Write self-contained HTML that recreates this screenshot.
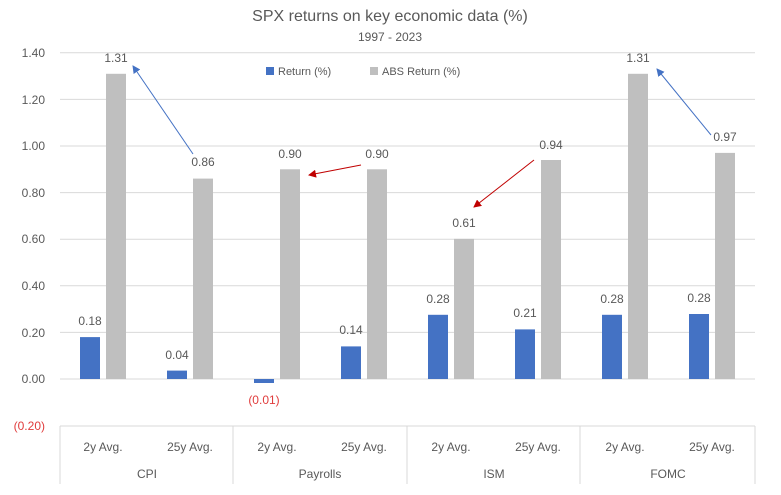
<!DOCTYPE html>
<html><head><meta charset="utf-8"><style>
html,body{margin:0;padding:0;background:#fff;}
svg{display:block;font-family:"Liberation Sans",sans-serif;}
</style></head><body>
<svg width="781" height="495" viewBox="0 0 781 495" xmlns="http://www.w3.org/2000/svg">
<defs>
<marker id="ab" markerWidth="8" markerHeight="8" refX="7" refY="4" orient="auto" markerUnits="userSpaceOnUse"><path d="M0,0 L8,4 L0,8 z" fill="#4472c4"/></marker>
<marker id="ar" markerWidth="8" markerHeight="8" refX="7" refY="4" orient="auto" markerUnits="userSpaceOnUse"><path d="M0,0 L8,4 L0,8 z" fill="#c00000"/></marker>
</defs>
<text x="390" y="21" font-size="16" fill="#595959" text-anchor="middle">SPX returns on key economic data (%)</text>
<text x="390" y="41" font-size="12" fill="#595959" text-anchor="middle">1997 - 2023</text>
<g stroke="#d9d9d9" stroke-width="1">
<line x1="60" x2="755" y1="52.8" y2="52.8"/>
<line x1="60" x2="755" y1="99.4" y2="99.4"/>
<line x1="60" x2="755" y1="146" y2="146"/>
<line x1="60" x2="755" y1="192.6" y2="192.6"/>
<line x1="60" x2="755" y1="239.2" y2="239.2"/>
<line x1="60" x2="755" y1="285.8" y2="285.8"/>
<line x1="60" x2="755" y1="332.4" y2="332.4"/>
<line x1="60" x2="755" y1="379" y2="379"/>
<line x1="60" x2="755" y1="426" y2="426"/>
<line x1="60" x2="60" y1="426" y2="484"/>
<line x1="233" x2="233" y1="426" y2="484"/>
<line x1="407" x2="407" y1="426" y2="484"/>
<line x1="580" x2="580" y1="426" y2="484"/>
<line x1="755" x2="755" y1="426" y2="484"/>
</g>
<g font-size="12" fill="#595959" text-anchor="end">
<text x="45" y="57">1.40</text><text x="45" y="104">1.20</text><text x="45" y="150">1.00</text>
<text x="45" y="197">0.80</text><text x="45" y="243">0.60</text><text x="45" y="290">0.40</text>
<text x="45" y="337">0.20</text><text x="45" y="383">0.00</text>
<text x="45" y="430" fill="#e03c3c">(0.20)</text>
</g>
<rect x="266" y="67" width="8" height="8" fill="#4472c4"/>
<text x="278" y="75" font-size="11" fill="#595959">Return (%)</text>
<rect x="370" y="67" width="8" height="8" fill="#bfbfbf"/>
<text x="382" y="75" font-size="11" fill="#595959">ABS Return (%)</text>
<g fill="#4472c4">
<rect x="80" y="337.1" width="20" height="41.9"/>
<rect x="167" y="370.6" width="20" height="8.4"/>
<rect x="254" y="379" width="20" height="4"/>
<rect x="341" y="346.4" width="20" height="32.6"/>
<rect x="428" y="314.8" width="20" height="64.2"/>
<rect x="515" y="329.4" width="20" height="49.6"/>
<rect x="602" y="314.8" width="20" height="64.2"/>
<rect x="689" y="314" width="20" height="65"/>
</g>
<g fill="#bfbfbf">
<rect x="106" y="73.8" width="20" height="305.2"/>
<rect x="193" y="178.6" width="20" height="200.4"/>
<rect x="280" y="169.3" width="20" height="209.7"/>
<rect x="367" y="169.3" width="20" height="209.7"/>
<rect x="454" y="238.9" width="20" height="140.1"/>
<rect x="541" y="160" width="20" height="219"/>
<rect x="628" y="73.8" width="20" height="305.2"/>
<rect x="715" y="152.9" width="20" height="226.1"/>
</g>
<g font-size="12" fill="#595959" text-anchor="middle">
<text x="90" y="325">0.18</text><text x="177" y="359">0.04</text>
<text x="264" y="404" fill="#e03c3c">(0.01)</text><text x="351" y="334">0.14</text>
<text x="438" y="303">0.28</text><text x="525" y="317">0.21</text>
<text x="612" y="303">0.28</text><text x="699" y="302">0.28</text>
<text x="116" y="62">1.31</text><text x="203" y="166">0.86</text>
<text x="290" y="158">0.90</text><text x="377" y="158">0.90</text>
<text x="464" y="227">0.61</text><text x="551" y="149">0.94</text>
<text x="638" y="62">1.31</text><text x="725" y="141">0.97</text>
</g>
<line x1="193" y1="154" x2="133" y2="66" stroke="#4472c4" stroke-width="1" marker-end="url(#ab)"/>
<line x1="361" y1="165" x2="309" y2="175" stroke="#c00000" stroke-width="1" marker-end="url(#ar)"/>
<line x1="534" y1="160" x2="474" y2="207" stroke="#c00000" stroke-width="1" marker-end="url(#ar)"/>
<line x1="711" y1="135" x2="657" y2="69" stroke="#4472c4" stroke-width="1" marker-end="url(#ab)"/>
<g font-size="12" fill="#595959" text-anchor="middle">
<text x="103" y="451">2y Avg.</text><text x="190" y="451">25y Avg.</text>
<text x="277" y="451">2y Avg.</text><text x="364" y="451">25y Avg.</text>
<text x="451" y="451">2y Avg.</text><text x="538" y="451">25y Avg.</text>
<text x="625" y="451">2y Avg.</text><text x="712" y="451">25y Avg.</text>
<text x="147" y="478">CPI</text><text x="320" y="478">Payrolls</text>
<text x="494" y="478">ISM</text><text x="668" y="478">FOMC</text>
</g>
</svg>
</body></html>
